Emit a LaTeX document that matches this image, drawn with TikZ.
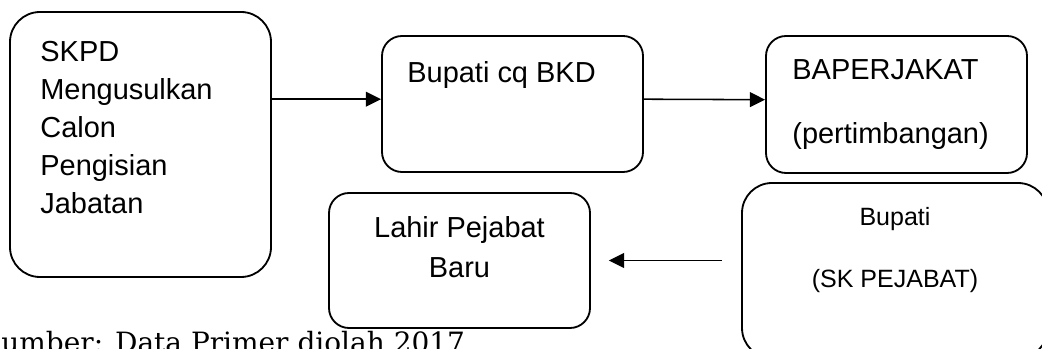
\documentclass[tikz,border=0pt]{standalone}
\usepackage{fontspec}
\setmainfont{Liberation Sans}
\newfontfamily\srcfont{DejaVu Serif}
\usetikzlibrary{positioning, arrows.meta}

\begin{document}
\begin{tikzpicture}[
	box/.style={draw, line width=1.3pt, rounded corners=0.75cm, inner sep=0pt},
	boxtxt/.style={inner sep=0pt, font=\fontsize{20.6}{27}\selectfont},
	arr/.style={line width=1.1pt, -{Triangle[length=0.38cm, width=0.37cm]}}
	]
	\useasboundingbox (0,0) rectangle (26.05,8.725);
	
	% Boxes
	\node[box, minimum width=6.525cm, minimum height=6.625cm] (skpd) at (3.5125,5.1125) {};
	\node[box, rounded corners=0.5cm, minimum width=6.525cm, minimum height=3.4cm] (bkd) at (12.8125,6.125) {};
	\node[box, rounded corners=0.5cm, minimum width=6.525cm, minimum height=3.425cm] (baper) at (22.4125,6.1125) {};
	\node[box, rounded corners=0.5cm, minimum width=6.525cm, minimum height=3.375cm] (lahir) at (11.4875,2.2125) {};
	\node[box, minimum width=7.65cm, minimum height=4.375cm] (skpej) at (22.375,1.9625) {};
	
	% Texts
	\node[boxtxt, align=left, below right=0.74cm and 0.775cm of skpd.north west] (skpdtxt) {SKPD\\Mengusulkan\\Calon\\Pengisian\\Jabatan};
	\node[boxtxt, below right=0.65cm and 0.65cm of bkd.north west] (bkdtxt) {Bupati cq BKD};
	\node[boxtxt, align=left, font=\fontsize{20.6}{46}\selectfont, below right=0.6cm and 0.675cm of baper.north west] (bapertxt) {BAPERJAKAT\\(pertimbangan)};
	\node[boxtxt, align=center, font=\fontsize{20.6}{28.4}\selectfont, below=0.6cm of lahir.north] (lahirtxt) {Lahir Pejabat\\Baru};
	\node[boxtxt, align=center, font=\fontsize{17.8}{44}\selectfont, below=0.625cm of skpej.north] (skpejtxt) {Bupati\\(SK PEJABAT)};
	
	% Arrows
	\draw[arr] ([yshift=0.12cm]bkd.west -| skpd.east) -- ([yshift=0.12cm]bkd.west);
	\draw[arr] ([yshift=0.12cm]bkd.east) -- ([yshift=0.12cm]baper.west);
	\draw[arr] ([xshift=-0.48cm]skpej.west |- lahir.east) -- ([xshift=0.45cm]lahir.east);
	
	% Source
	\node[anchor=base west, inner sep=0pt, font=\srcfont\fontsize{19.9}{24}\selectfont] (src) at (-0.45,-0.1) {Sumber: Data Primer diolah 2017};
\end{tikzpicture}
\end{document}
